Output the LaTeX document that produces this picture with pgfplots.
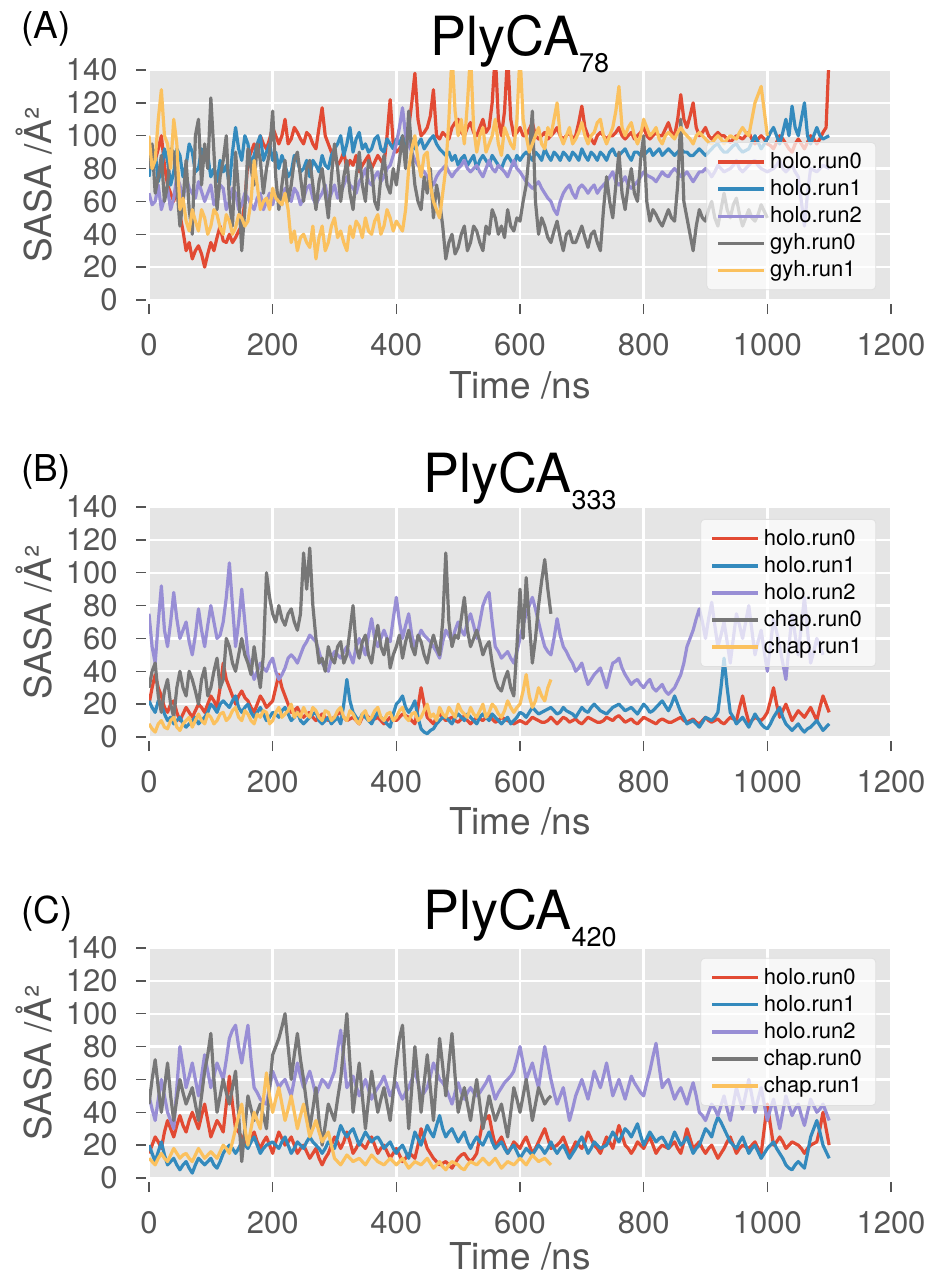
\documentclass[border=0pt]{standalone}
\usepackage{fontspec}
\setmainfont{TeX Gyre Heros}
\usepackage{pgfplots}
\usepackage{pgfplotstable}
\pgfplotsset{compat=1.18}

\definecolor{cRed}{HTML}{E24A33}
\definecolor{cBlue}{HTML}{348ABD}
\definecolor{cPurple}{HTML}{988ED5}
\definecolor{cGray}{HTML}{777777}
\definecolor{cYellow}{HTML}{FBC15E}
\definecolor{bgGray}{HTML}{E5E5E5}
\definecolor{txtGray}{HTML}{555555}

% PlyCA78: t holo.run0 holo.run1 holo.run2 gyh.run0 gyh.run1
\pgfplotstableread{
t a b c d e
0 95 75 65 80 100
5 80 92 58 95 80
10 85 90 60 65 85
15 92 72 70 75 110
20 100 80 55 88 128
25 82 92 62 60 100
30 70 85 68 70 95
35 65 70 55 92 80
40 60 78 62 90 110
45 68 92 75 70 95
50 52 88 70 45 55
55 42 75 60 60 62
60 30 82 75 85 48
65 35 95 68 55 42
70 25 90 65 40 55
75 30 78 62 100 48
80 33 80 72 110 42
85 28 92 66 70 55
90 20 85 60 95 50
95 28 88 65 80 40
100 35 75 70 123 45
105 30 80 58 90 55
110 38 72 62 55 52
115 45 85 70 75 44
120 36 78 68 85 40
125 35 82 55 100 52
130 40 70 60 60 48
135 35 90 68 45 40
140 38 105 65 90 44
145 42 92 55 65 52
150 45 85 58 30 50
155 60 100 65 55 45
160 85 95 62 92 48
165 90 82 58 80 60
170 95 88 55 70 85
175 88 95 62 95 70
180 100 100 65 85 55
185 95 85 55 65 60
190 92 90 60 80 62
195 98 95 65 90 55
200 105 85 58 115 68
205 100 90 65 75 62
210 95 80 62 55 60
215 100 88 58 70 58
220 110 82 68 85 65
225 95 75 62 60 55
230 98 78 60 70 35
235 105 88 68 85 42
240 102 85 65 90 30
245 98 78 58 75 38
250 95 80 62 60 40
255 102 85 68 80 35
260 100 75 70 85 32
265 95 85 62 70 45
270 92 82 58 55 25
275 105 78 62 72 38
280 117 88 65 80 45
285 100 82 70 65 30
290 95 80 60 50 35
295 90 88 65 75 45
300 88 92 70 95 50
305 82 95 62 80 38
310 85 100 65 60 42
315 90 88 70 75 35
320 80 95 75 85 30
325 85 105 70 65 45
330 82 90 68 55 38
335 88 98 65 75 48
340 78 102 72 90 45
345 82 92 75 70 38
350 85 95 80 60 50
355 88 90 72 85 42
360 80 92 70 80 40
365 84 98 75 60 48
370 88 100 78 55 52
375 85 92 72 75 40
380 82 90 75 88 45
385 100 98 80 70 55
390 122 95 82 65 50
395 95 92 88 80 42
400 90 98 95 70 48
405 92 95 105 85 45
410 95 100 117 100 42
415 100 92 100 80 55
420 105 95 95 115 80
425 120 98 90 90 92
430 138 92 85 70 100
435 110 95 82 60 85
440 100 98 80 55 75
445 102 92 78 75 88
450 105 95 75 65 90
455 112 98 72 80 70
460 128 100 70 50 60
465 100 95 75 70 55
470 98 92 78 60 50
475 102 90 80 45 65
480 100 88 82 25 80
485 98 90 78 35 110
490 105 85 75 40 150
495 108 88 78 28 115
500 110 82 80 32 100
505 102 86 82 40 110
510 100 88 85 45 95
515 105 82 80 30 120
520 108 85 78 35 150
525 102 88 80 45 105
530 100 80 82 42 90
535 105 85 78 35 100
540 110 88 75 30 105
545 102 85 80 45 90
550 105 82 85 40 95
555 120 88 80 55 100
560 150 85 78 50 110
565 110 82 82 40 95
570 100 80 80 45 88
575 115 85 78 38 105
580 150 88 75 55 100
585 110 85 80 45 95
590 100 82 85 42 92
595 102 88 80 50 110
600 105 85 78 48 150
605 100 88 75 60 110
610 100 90 72 70 100
615 104 88 70 90 90
620 108 85 68 115 95
625 100 90 70 60 100
630 98 88 72 40 105
635 100 85 68 50 95
640 102 92 65 45 92
645 98 88 62 38 105
650 100 85 60 35 100
655 102 90 55 42 110
660 105 88 52 48 120
665 100 85 60 38 100
670 98 90 65 30 95
675 100 88 68 40 100
680 102 85 70 42 105
685 98 90 65 35 95
690 100 88 62 35 98
695 108 85 68 40 102
700 118 92 70 45 108
705 105 88 68 38 100
710 100 85 65 32 95
715 98 90 68 40 100
720 95 88 70 42 102
725 100 85 65 35 108
730 102 90 68 30 110
735 100 88 70 55 100
740 98 85 72 75 95
745 100 90 75 60 100
750 100 92 78 50 105
755 102 88 72 70 115
760 105 88 70 90 130
765 100 90 72 65 105
770 98 92 75 55 100
775 100 88 70 70 105
780 102 85 68 80 108
785 98 90 70 65 100
790 100 90 72 60 95
795 102 88 75 85 100
800 105 88 78 100 110
805 100 90 76 60 105
810 98 92 75 48 100
815 100 88 74 55 102
820 102 90 72 52 105
825 100 92 75 48 98
830 100 88 78 45 95
835 104 90 76 50 100
840 108 92 75 55 102
845 102 90 78 50 100
850 100 88 80 48 98
855 110 90 78 70 102
860 125 92 75 110 105
865 110 90 76 60 102
870 105 90 78 50 100
875 112 88 75 40 98
880 120 88 72 30 95
885 105 90 75 45 100
890 100 92 78 55 102
895 102 90 78 50 100
900 105 88 80 48 98
905 100 90 78 55 96
910 98 92 75 60 95
915 100 94 78 50 98
920 102 95 82 45 100
925 100 92 80 55 98
930 100 90 78 65 95
935 98 90 79 55 98
940 96 92 80 50 100
945 98 94 82 58 99
950 100 95 85 62 98
955 99 92 80 52 102
960 98 90 78 45 105
965 100 91 80 50 102
970 102 92 82 55 100
975 98 96 84 50 110
980 95 100 85 48 120
985 98 96 82 52 125
990 100 92 80 58 130
995 98 95 79 54 115
1000 95 98 78 50 100
1005 94 102 79 nan nan
1010 92 105 80 nan nan
1015 96 100 82 nan nan
1020 100 95 85 nan nan
1025 98 102 80 nan nan
1030 95 110 78 nan nan
1035 92 100 80 nan nan
1040 90 118 82 nan nan
1045 95 105 78 nan nan
1050 98 100 75 nan nan
1055 95 110 60 nan nan
1060 92 120 45 nan nan
1065 96 100 65 nan nan
1070 100 95 80 nan nan
1075 98 100 79 nan nan
1080 95 105 78 nan nan
1085 98 100 80 nan nan
1090 102 98 82 nan nan
1095 105 99 81 nan nan
1100 150 100 80 nan nan
}\tabA

% PlyCA333: t holo.run0 holo.run1 holo.run2 chap.run0 chap.run1
\pgfplotstableread{
t a b c d e
0 20 22 75 30 8
5 30 18 55 40 5
10 38 15 45 45 3
15 30 22 70 25 8
20 25 20 92 15 10
25 18 14 65 28 6
30 15 10 55 35 5
35 20 12 70 20 10
40 22 8 88 12 12
45 15 10 72 30 6
50 10 12 60 40 4
55 14 8 65 30 8
60 18 6 70 25 10
65 15 8 58 40 12
70 12 10 50 35 6
75 16 12 62 28 10
80 20 8 78 20 14
85 18 10 65 35 10
90 15 12 55 42 8
95 20 15 68 25 14
100 25 20 80 30 12
105 22 18 70 40 8
110 18 15 60 48 10
115 30 20 62 30 14
120 45 22 70 35 15
125 35 20 85 60 10
130 30 18 106 55 12
135 25 22 80 45 16
140 20 25 55 40 18
145 25 18 70 50 12
150 28 15 90 60 10
155 24 18 70 50 16
160 22 20 50 45 14
165 18 15 42 38 10
170 15 12 35 55 8
175 20 15 40 42 14
180 25 18 45 30 12
185 22 14 42 50 16
190 18 10 40 100 15
195 20 12 45 85 8
200 22 15 48 75 10
205 30 14 40 70 15
210 38 12 35 80 18
215 30 16 38 72 12
220 25 18 42 68 14
225 20 14 48 75 16
230 15 10 50 78 20
235 16 12 48 70 12
240 18 15 45 65 15
245 14 10 50 75 12
250 12 8 55 112 18
255 14 10 58 90 14
260 15 12 62 115 12
265 12 14 60 80 18
270 10 15 58 60 16
275 12 10 52 45 12
280 14 8 45 48 10
285 12 10 42 40 16
290 10 12 40 55 15
295 11 8 48 48 10
300 12 10 52 45 12
305 14 12 50 55 16
310 15 8 48 58 18
315 12 20 52 45 12
320 10 35 55 50 10
325 11 22 50 65 16
330 12 15 45 80 14
335 10 12 55 55 10
340 8 10 60 48 8
345 12 14 55 58 14
350 14 12 50 62 16
355 12 10 62 50 10
360 10 8 72 45 12
365 11 12 60 58 16
370 12 15 55 68 18
375 10 12 60 55 12
380 8 10 65 50 10
385 10 8 60 60 14
390 12 6 58 42 15
395 11 14 72 50 10
400 10 20 85 55 12
405 12 22 70 62 16
410 14 25 60 48 18
415 13 18 68 58 12
420 12 15 75 65 10
425 10 18 62 55 14
430 8 22 55 50 15
435 18 12 60 62 10
440 30 5 65 58 12
445 20 3 62 50 16
450 12 2 60 45 20
455 10 4 58 55 12
460 8 5 55 62 14
465 12 8 52 55 10
470 14 10 48 50 18
475 12 12 58 70 14
480 10 12 65 112 12
485 11 10 62 70 18
490 12 8 58 55 15
495 10 12 65 62 12
500 9 14 70 60 20
505 11 12 65 72 16
510 13 10 62 85 14
515 10 14 70 65 12
520 8 12 75 55 18
525 10 10 68 60 14
530 12 8 60 65 12
535 11 12 70 58 16
540 10 14 80 50 20
545 12 12 85 55 12
550 14 10 88 58 15
555 11 14 70 45 20
560 9 12 55 35 18
565 10 10 52 30 14
570 12 8 48 28 12
575 11 10 50 35 16
580 10 12 52 40 22
585 9 8 48 30 18
590 8 10 45 25 15
595 9 12 52 55 18
600 10 15 60 90 20
605 9 14 68 60 28
610 8 12 75 97 38
615 10 15 80 70 25
620 12 18 85 45 18
625 11 16 78 60 22
630 10 14 70 80 30
635 9 15 62 95 25
640 9 16 55 108 22
645 10 17 52 90 30
650 12 18 50 75 35
655 10 16 60 nan nan
660 8 14 72 nan nan
665 10 15 62 nan nan
670 12 18 55 nan nan
675 11 16 52 nan nan
680 9 15 48 nan nan
685 10 14 45 nan nan
690 11 12 40 nan nan
695 9 15 42 nan nan
700 8 18 45 nan nan
705 10 16 38 nan nan
710 12 15 32 nan nan
715 11 18 35 nan nan
720 10 20 38 nan nan
725 9 18 40 nan nan
730 9 16 42 nan nan
735 10 15 36 nan nan
740 12 14 30 nan nan
745 11 16 38 nan nan
750 10 18 45 nan nan
755 12 19 46 nan nan
760 13 20 48 nan nan
765 11 18 42 nan nan
770 9 16 38 nan nan
775 10 17 35 nan nan
780 11 18 32 nan nan
785 9 16 34 nan nan
790 8 14 35 nan nan
795 10 17 32 nan nan
800 12 20 30 nan nan
805 11 18 33 nan nan
810 10 15 35 nan nan
815 9 16 30 nan nan
820 8 18 28 nan nan
825 10 20 30 nan nan
830 11 22 32 nan nan
835 10 19 28 nan nan
840 9 16 26 nan nan
845 9 20 28 nan nan
850 10 25 30 nan nan
855 11 20 34 nan nan
860 12 15 38 nan nan
865 10 12 45 nan nan
870 9 8 55 nan nan
875 10 9 60 nan nan
880 11 10 65 nan nan
885 9 8 72 nan nan
890 8 6 78 nan nan
895 10 9 70 nan nan
900 12 12 60 nan nan
905 10 11 72 nan nan
910 9 10 82 nan nan
915 10 12 68 nan nan
920 11 15 55 nan nan
925 9 30 62 nan nan
930 8 48 70 nan nan
935 10 30 58 nan nan
940 12 15 45 nan nan
945 11 12 60 nan nan
950 10 8 75 nan nan
955 18 10 68 nan nan
960 25 12 60 nan nan
965 16 9 70 nan nan
970 9 6 80 nan nan
975 10 10 65 nan nan
980 12 14 50 nan nan
985 11 11 58 nan nan
990 10 8 65 nan nan
995 12 6 52 nan nan
1000 15 5 40 nan nan
1005 22 8 56 nan nan
1010 30 12 72 nan nan
1015 20 15 64 nan nan
1020 12 18 55 nan nan
1025 16 12 45 nan nan
1030 20 8 35 nan nan
1035 15 6 55 nan nan
1040 10 4 75 nan nan
1045 13 6 62 nan nan
1050 16 8 50 nan nan
1055 14 5 68 nan nan
1060 12 3 85 nan nan
1065 15 5 65 nan nan
1070 18 6 45 nan nan
1075 14 8 52 nan nan
1080 10 10 60 nan nan
1085 18 7 55 nan nan
1090 25 4 50 nan nan
1095 20 6 nan nan nan
1100 15 8 nan nan nan
}\tabB

% PlyCA420: t holo.run0 holo.run1 holo.run2 chap.run0 chap.run1
\pgfplotstableread{
t a b c d e
0 15 20 50 45 12
5 20 15 42 60 10
10 25 10 35 72 8
15 22 16 48 55 12
20 18 22 60 40 15
25 28 14 50 55 12
30 35 8 40 70 10
35 30 10 35 50 14
40 25 12 30 35 18
45 32 8 55 48 15
50 38 5 80 60 12
55 32 8 68 52 14
60 28 10 55 45 15
65 35 6 62 50 12
70 40 3 70 55 10
75 35 8 60 45 14
80 30 12 50 35 18
85 38 10 62 50 15
90 45 8 75 65 12
95 35 10 65 75 14
100 25 12 55 88 16
105 30 8 62 60 14
110 35 6 70 40 12
115 32 10 65 50 16
120 28 15 60 60 20
125 45 18 72 52 18
130 62 20 85 45 15
135 45 18 90 55 22
140 30 15 93 65 30
145 28 18 80 38 38
150 25 22 70 10 45
155 22 20 82 30 30
160 20 18 93 50 20
165 24 22 72 42 30
170 28 25 55 35 40
175 22 20 52 40 35
180 18 15 48 45 30
185 22 18 46 38 48
190 25 20 45 30 64
195 20 21 55 55 50
200 15 22 65 75 40
205 22 20 60 80 48
210 28 18 55 85 55
215 24 22 58 92 45
220 20 25 60 100 35
225 22 20 55 80 42
230 25 15 50 60 50
235 20 18 60 75 40
240 15 22 70 88 30
245 18 20 62 72 38
250 20 18 55 60 45
255 16 22 60 45 35
260 12 25 65 30 25
265 15 22 58 42 30
270 18 20 50 55 35
275 12 18 55 35 28
280 8 15 60 20 22
285 12 18 58 32 25
290 15 22 55 45 28
295 20 20 60 40 20
300 25 18 65 35 12
305 22 25 78 48 10
310 18 32 90 60 8
315 22 28 72 80 11
320 28 25 55 100 14
325 22 28 58 70 12
330 15 30 62 40 10
335 18 25 56 55 11
340 22 20 50 70 12
345 20 24 55 50 10
350 18 28 60 30 8
355 22 25 54 48 11
360 25 22 48 65 14
365 20 24 52 52 12
370 15 25 55 40 10
375 18 22 58 48 9
380 20 18 62 55 8
385 16 20 56 45 10
390 12 22 50 35 12
395 15 18 54 52 10
400 18 15 58 70 8
405 14 18 52 85 10
410 10 20 48 93 12
415 12 16 52 60 9
420 15 12 55 30 6
425 14 20 60 55 8
430 12 28 65 80 10
435 20 24 58 60 9
440 30 20 50 40 8
445 24 26 52 58 10
450 18 32 55 75 12
455 15 28 62 55 9
460 12 25 70 35 6
465 10 32 65 60 8
470 8 38 60 85 10
475 9 30 58 68 7
480 10 25 55 50 5
485 8 28 50 70 8
490 6 30 45 88 10
495 9 26 52 62 9
500 12 22 58 40 8
505 14 25 52 48 6
510 15 28 48 55 5
515 12 22 52 45 8
520 10 18 55 35 10
525 12 22 52 48 9
530 15 25 50 60 8
535 25 22 52 45 10
540 35 20 55 30 12
545 36 24 58 40 10
550 38 28 62 50 8
555 28 22 55 42 10
560 20 18 48 35 12
565 22 20 52 40 9
570 25 22 55 45 6
575 20 18 58 35 8
580 15 15 60 25 10
585 18 18 62 40 9
590 22 20 65 55 8
595 20 16 72 48 10
600 18 12 80 40 12
605 22 15 70 50 10
610 25 18 60 60 8
615 20 16 65 48 11
620 15 14 70 35 14
625 18 17 62 45 12
630 22 20 55 55 10
635 26 18 68 50 11
640 30 15 80 45 12
645 24 18 70 48 10
650 18 22 60 50 8
655 19 18 52 nan nan
660 20 15 45 nan nan
665 22 18 50 nan nan
670 25 20 55 nan nan
675 20 16 45 nan nan
680 15 12 35 nan nan
685 18 15 42 nan nan
690 22 18 50 nan nan
695 20 22 55 nan nan
700 18 25 60 nan nan
705 22 20 54 nan nan
710 28 15 48 nan nan
715 24 18 56 nan nan
720 20 22 65 nan nan
725 18 20 60 nan nan
730 15 18 55 nan nan
735 20 19 62 nan nan
740 25 20 70 nan nan
745 22 24 60 nan nan
750 18 28 50 nan nan
755 25 25 55 nan nan
760 32 22 60 nan nan
765 26 26 54 nan nan
770 20 30 48 nan nan
775 18 28 55 nan nan
780 15 25 62 nan nan
785 18 29 58 nan nan
790 22 33 55 nan nan
795 20 26 52 nan nan
800 18 20 50 nan nan
805 22 24 58 nan nan
810 25 28 65 nan nan
815 20 25 74 nan nan
820 15 22 82 nan nan
825 18 24 68 nan nan
830 20 25 55 nan nan
835 19 22 58 nan nan
840 18 18 60 nan nan
845 20 23 54 nan nan
850 22 28 48 nan nan
855 18 24 52 nan nan
860 15 20 55 nan nan
865 22 22 50 nan nan
870 30 25 45 nan nan
875 24 20 52 nan nan
880 18 15 58 nan nan
885 20 18 50 nan nan
890 22 20 40 nan nan
895 18 25 38 nan nan
900 15 30 35 nan nan
905 18 28 40 nan nan
910 20 25 45 nan nan
915 16 32 42 nan nan
920 12 37 38 nan nan
925 15 34 44 nan nan
930 18 30 50 nan nan
935 22 26 42 nan nan
940 25 22 35 nan nan
945 20 20 45 nan nan
950 15 18 55 nan nan
955 18 22 48 nan nan
960 20 25 42 nan nan
965 19 20 51 nan nan
970 18 15 60 nan nan
975 20 18 50 nan nan
980 22 20 40 nan nan
985 18 16 48 nan nan
990 15 12 55 nan nan
995 30 15 45 nan nan
1000 45 18 35 nan nan
1005 32 20 42 nan nan
1010 20 22 48 nan nan
1015 22 18 39 nan nan
1020 25 15 30 nan nan
1025 22 12 40 nan nan
1030 18 8 50 nan nan
1035 20 6 44 nan nan
1040 22 5 38 nan nan
1045 21 8 42 nan nan
1050 20 10 45 nan nan
1055 18 8 38 nan nan
1060 15 6 32 nan nan
1065 18 15 40 nan nan
1070 20 25 48 nan nan
1075 21 30 44 nan nan
1080 22 35 40 nan nan
1085 30 28 42 nan nan
1090 40 20 45 nan nan
1095 30 16 40 nan nan
1100 20 12 35 nan nan
}\tabC

\pgfplotsset{
  sl/.style={line width=1.6pt, line join=round, mark=none},
  sasa/.style={
    width=371pt, height=115pt, scale only axis,
    xmin=0, xmax=1200, ymin=0, ymax=140,
    xtick={0,200,...,1200}, ytick={0,20,...,140},
    axis background/.style={fill=bgGray},
    axis line style={draw=none},
    grid=major, major grid style={white, line width=1.2pt},
    tick pos=left, tick align=outside, major tick length=5pt,
    tick style={txtGray, line width=0.7pt},
    xtick style={yshift=-2pt}, ytick style={xshift=-1.5pt},
    /pgf/number format/assume math mode=true,
    /pgf/number format/1000 sep={},
    tick label style={font=\fontsize{15.5}{16}\selectfont, text=txtGray},
    xticklabel style={anchor=base, yshift=-22.5pt},
    yticklabel style={anchor=east, inner xsep=0pt, xshift=-10.5pt},
    unbounded coords=jump,
    legend cell align=left,
    legend style={font=\fontsize{11}{13}\selectfont, fill=white, fill opacity=0.7,
      text opacity=1, draw=white!75!gray, rounded corners=2pt,
      inner xsep=5pt, inner ysep=3pt},
    legend image code/.code={\draw[##1, line width=1.6pt] (0pt,0pt) -- (15.5pt,0pt);
      \path (0pt,0pt) -- (23pt,0pt);},
  }
}

\begin{document}
\begin{tikzpicture}
\useasboundingbox (0pt,0pt) rectangle (466pt,-639.5pt);

\begin{axis}[sasa, at={(74.5pt,-150pt)}, anchor=south west,
  legend style={at={(0.98,0.043)}, anchor=south east}]
\addplot[cRed, sl] table[x=t, y=a] {\tabA};
\addplot[cBlue, sl] table[x=t, y=b] {\tabA};
\addplot[cPurple, sl] table[x=t, y=c] {\tabA};
\addplot[cGray, sl] table[x=t, y=d] {\tabA};
\addplot[cYellow, sl] table[x=t, y=e] {\tabA};
\legend{holo.run0, holo.run1, holo.run2, gyh.run0, gyh.run1}
\end{axis}

\begin{axis}[sasa, at={(74.5pt,-368.5pt)}, anchor=south west,
  legend style={at={(0.98,0.948)}, anchor=north east}]
\addplot[cRed, sl] table[x=t, y=a] {\tabB};
\addplot[cBlue, sl] table[x=t, y=b] {\tabB};
\addplot[cPurple, sl] table[x=t, y=c] {\tabB};
\addplot[cGray, sl] table[x=t, y=d] {\tabB};
\addplot[cYellow, sl] table[x=t, y=e] {\tabB};
\legend{holo.run0, holo.run1, holo.run2, chap.run0, chap.run1}
\end{axis}

\begin{axis}[sasa, at={(74.5pt,-589pt)}, anchor=south west,
  legend style={at={(0.98,0.957)}, anchor=north east}]
\addplot[cRed, sl] table[x=t, y=a] {\tabC};
\addplot[cBlue, sl] table[x=t, y=b] {\tabC};
\addplot[cPurple, sl] table[x=t, y=c] {\tabC};
\addplot[cGray, sl] table[x=t, y=d] {\tabC};
\addplot[cYellow, sl] table[x=t, y=e] {\tabC};
\legend{holo.run0, holo.run1, holo.run2, chap.run0, chap.run1}
\end{axis}

% titles
\node[anchor=base] at (260pt,-28pt) {\fontsize{27}{30}\selectfont PlyCA\raisebox{-8.5pt}{\fontsize{13.5}{15}\selectfont 78}};
\node[anchor=base] at (260pt,-246pt) {\fontsize{27}{30}\selectfont PlyCA\raisebox{-8.5pt}{\fontsize{13.5}{15}\selectfont 333}};
\node[anchor=base] at (260pt,-464.5pt) {\fontsize{27}{30}\selectfont PlyCA\raisebox{-8.5pt}{\fontsize{13.5}{15}\selectfont 420}};

% panel letters
\node[anchor=base west, inner sep=0pt] at (10.5pt,-19.5pt) {\fontsize{18.5}{20}\selectfont (A)};
\node[anchor=base west, inner sep=0pt] at (10.5pt,-240.5pt) {\fontsize{18.5}{20}\selectfont (B)};
\node[anchor=base west, inner sep=0pt] at (10.5pt,-461.5pt) {\fontsize{18.5}{20}\selectfont (C)};

% axis labels
\foreach \yc/\yb in {-92.5/-199, -311.25/-417, -531.5/-634.5} {
  \node[rotate=90, anchor=base, inner sep=0pt, text=txtGray] at (25.5pt,\yc pt) {\fontsize{18.5}{20}\selectfont SASA /Å²};
  \node[anchor=base, inner sep=0pt, text=txtGray] at (260pt,\yb pt) {\fontsize{18.5}{20}\selectfont Time /ns};
}
\end{tikzpicture}
\end{document}
